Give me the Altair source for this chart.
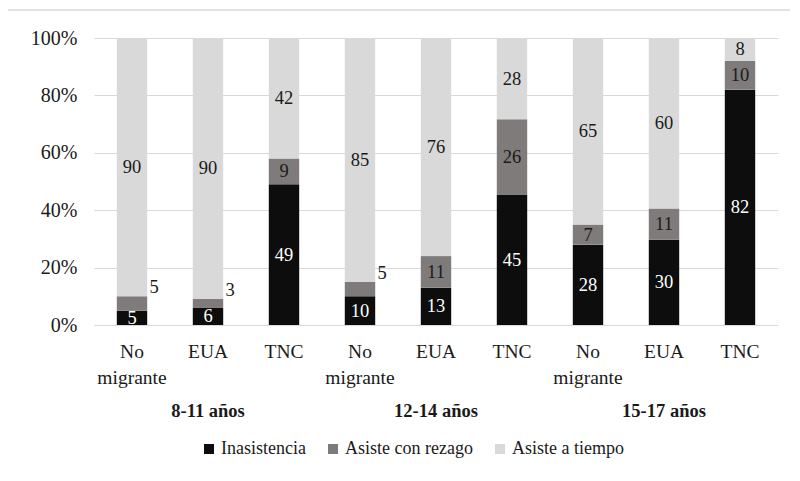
import altair as alt
import pandas as pd

groups = ["8-11 años", "12-14 años", "15-17 años"]
categories = ["No migrante", "EUA", "TNC"]
series = ["Inasistencia", "Asiste con rezago", "Asiste a tiempo"]
colors = ["#0d0d0d", "#7f7b7b", "#d9d9d9"]

inasistencia = [5, 6, 49, 10, 13, 45, 28, 30, 82]
rezago = [5, 3, 9, 5, 11, 26, 7, 11, 10]
tiempo = [90, 90, 42, 85, 76, 28, 65, 60, 8]

keys = []
rows = []
for i in range(9):
    g = groups[i // 3]
    c = categories[i % 3]
    k = f"{i}|{c}"
    keys.append(k)
    for j, (s, vals) in enumerate(zip(series, [inasistencia, rezago, tiempo])):
        rows.append({"key": k, "group": g, "series": s, "order": j, "value": vals[i]})
df = pd.DataFrame(rows)

grp_df = pd.DataFrame({"group": groups, "key": [keys[1], keys[4], keys[7]]})

font = "Liberation Serif"

xenc = alt.X(
    "key:N",
    sort=keys,
    scale=alt.Scale(paddingInner=0.6, paddingOuter=0.3),
    axis=alt.Axis(
        title=None, labelAngle=0, ticks=False, domain=False, grid=False,
        labelExpr="split(split(datum.label, '|')[1], ' ')",
        labelFontSize=19.5, labelLineHeight=26, labelPadding=17,
        labelColor="#1a1a1a", labelFont=font,
    ),
)

base = alt.Chart(df).transform_stack(
    stack="value", groupby=["key"], sort=[alt.SortField("order")],
    as_=["y0", "y1"], offset="normalize",
).transform_calculate(mid="(datum.y0 + datum.y1) / 2")

bars = base.mark_bar().encode(
    x=xenc,
    y=alt.Y(
        "y0:Q",
        scale=alt.Scale(domain=[0, 1]),
        axis=alt.Axis(
            title=None, values=[0, 0.2, 0.4, 0.6, 0.8, 1.0], format=".0%",
            domain=False, ticks=False, labelFontSize=20, labelPadding=17,
            gridColor="#d9d9d9", labelColor="#1a1a1a", labelFont=font,
        ),
    ),
    y2="y1:Q",
    color=alt.Color(
        "series:N",
        scale=alt.Scale(domain=series, range=colors),
        legend=alt.Legend(
            title=None, orient="none", legendX=106, legendY=402,
            direction="horizontal", symbolType="square", symbolSize=100,
            symbolStrokeWidth=0, labelFont=font, labelFontSize=18,
            labelColor="#1a1a1a", columnPadding=18, labelOffset=3,
        ),
    ),
    order=alt.Order("order:Q"),
)

outside_cond = "datum.series == 'Asiste con rezago' && datum.value <= 5"

text_in = base.transform_filter("!(" + outside_cond + ")").mark_text(
    font=font, fontSize=18.5, baseline="middle"
).encode(
    x=alt.X("key:N", sort=keys),
    y="mid:Q",
    text="value:Q",
    color=alt.condition(
        alt.datum.series == "Inasistencia", alt.value("white"), alt.value("#1a1a1a")
    ),
)

text_out = base.transform_filter(outside_cond).mark_text(
    font=font, fontSize=18.5, baseline="middle", dx=22, dy=-9, color="#1a1a1a"
).encode(
    x=alt.X("key:N", sort=keys),
    y="y1:Q",
    text="value:Q",
)

grp_text = alt.Chart(grp_df).mark_text(
    font=font, fontSize=18.5, fontWeight="bold", color="#1a1a1a", baseline="middle"
).encode(
    x=alt.X("key:N", sort=keys),
    y=alt.value(373),
    text="group:N",
)

top_rule = alt.Chart(pd.DataFrame({"a": [0]})).mark_rule(
    color="#d9d9d9", strokeWidth=1.5
).encode(x=alt.value(-87), x2=alt.value(696), y=alt.value(-28))

chart = alt.layer(top_rule, bars, text_in, text_out, grp_text).properties(
    width=684, height=287, autosize="none",
    padding={"left": 86, "top": 30, "right": 14, "bottom": 150},
).configure_view(stroke=None)

chart.save("out.html", embed_options={"renderer": "svg", "actions": False})
